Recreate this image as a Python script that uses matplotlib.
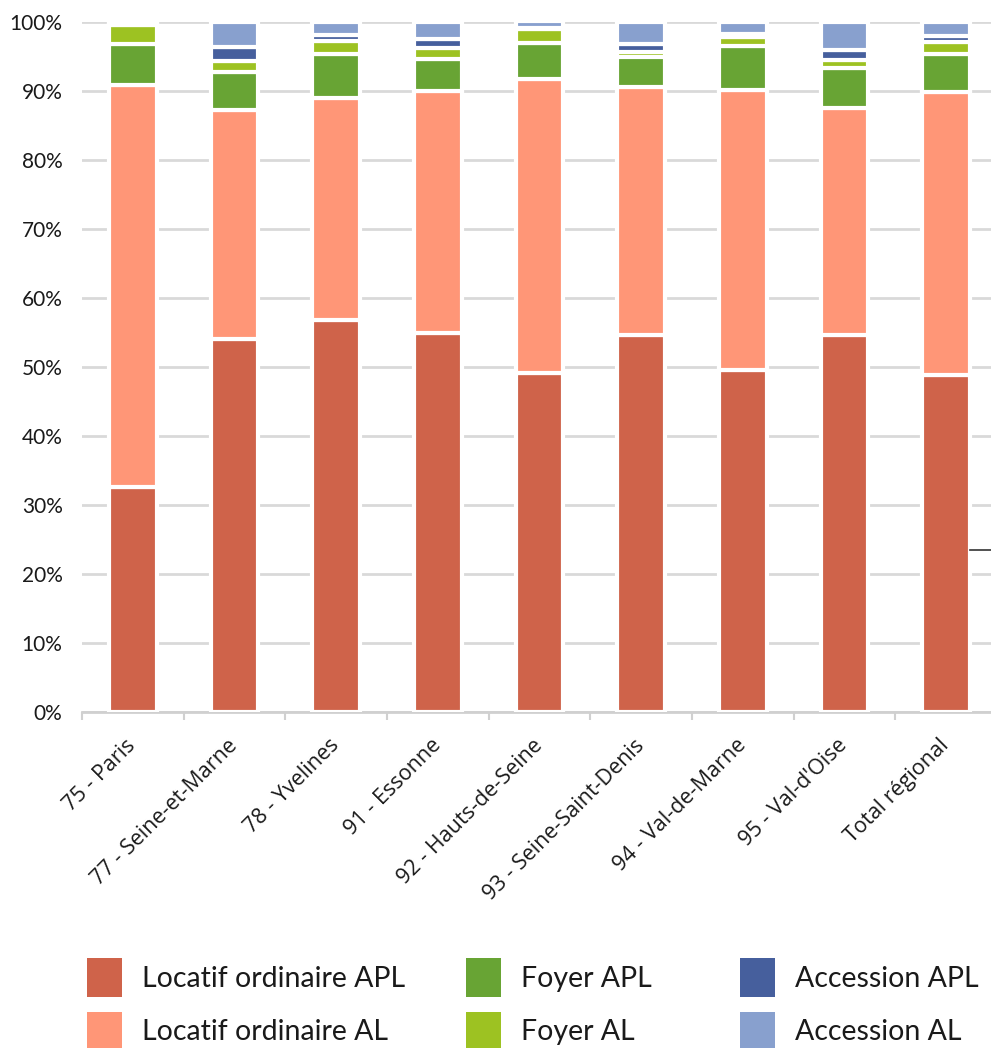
import matplotlib
matplotlib.use("Agg")
import matplotlib.pyplot as plt
import numpy as np
from matplotlib.patches import Patch
from matplotlib.lines import Line2D

plt.rcParams['font.family'] = ['Lato', 'DejaVu Sans']

categories = ["75 - Paris", "77 - Seine-et-Marne", "78 - Yvelines", "91 - Essonne",
              "92 - Hauts-de-Seine", "93 - Seine-Saint-Denis", "94 - Val-de-Marne",
              "95 - Val-d'Oise", "Total régional"]

locatif_apl = [32.6, 54.1, 56.8, 54.9, 49.2, 54.7, 49.6, 54.7, 48.8]
locatif_al = [58.2, 33.2, 32.2, 35.1, 42.5, 35.9, 40.6, 32.9, 41.1]
foyer_apl = [6.0, 5.4, 6.4, 4.7, 5.2, 4.4, 6.3, 5.7, 5.5]
foyer_al = [2.8, 1.6, 1.9, 1.6, 2.1, 0.6, 1.3, 1.2, 1.7]
accession_apl = [0.2, 2.1, 0.8, 1.25, 0.1, 1.2, 0.5, 1.5, 0.8]
accession_al = [0.2, 3.6, 1.9, 2.5, 1.0, 3.2, 1.7, 4.0, 2.1]

series_names = ["Locatif ordinaire APL", "Locatif ordinaire AL", "Foyer APL",
                "Foyer AL", "Accession APL", "Accession AL"]
series = [locatif_apl, locatif_al, foyer_apl, foyer_al, accession_apl, accession_al]
colors = ["#CF634A", "#FF9677", "#68A434", "#9DC222", "#465F9D", "#88A0CE"]

yticks = [0, 10, 20, 30, 40, 50, 60, 70, 80, 90, 100]
ytick_labels = [f"{v}%" for v in yticks]

W, H = 991, 1048
fig = plt.figure(figsize=(W / 100, H / 100), dpi=100)
ax = fig.add_axes([82 / W, 1 - 712 / H, (997 - 82) / W, (712 - 22) / H])

x = np.arange(len(categories))
bottom = np.zeros(len(categories))
handles = []
for name, vals, col in zip(series_names, series, colors):
    vals = np.array(vals)
    ax.bar(x, vals, width=0.47, bottom=bottom, color=col, edgecolor="white",
           linewidth=3.0, zorder=3)
    bottom += vals
    handles.append(Patch(facecolor=col, edgecolor="none", label=name))

ax.set_xlim(-0.5, len(categories) - 0.5)
ax.set_ylim(0, 100)
ax.set_yticks(yticks)
ax.set_yticklabels(ytick_labels, fontsize=15, color="#1a1a1a")
ax.tick_params(axis="y", length=0, pad=14)
ax.yaxis.grid(True, color="#D9D9D9", linewidth=2.0, zorder=0)
ax.set_axisbelow(True)

ax.set_xticks(x)
ax.set_xticklabels(categories, rotation=45, ha="right", va="center",
                   rotation_mode="anchor", fontsize=15.5, color="#1a1a1a",
                   family=["Open Sans", "DejaVu Sans"])
ax.tick_params(axis="x", which="major", length=0, pad=22)
ax.set_xticks(np.arange(-0.5, len(categories), 1.0), minor=True)
ax.tick_params(axis="x", which="minor", length=6, width=1.5, color="#D0D0D0")

for s in ["top", "right", "left"]:
    ax.spines[s].set_visible(False)
ax.spines["bottom"].set_color("#D0D0D0")
ax.spines["bottom"].set_linewidth(2.0)

# legend in three columns
col_x = [87, 466, 740]
for ci in range(3):
    leg = fig.legend(handles=handles[2 * ci:2 * ci + 2], loc="upper left",
                     bbox_to_anchor=(col_x[ci] / W, 1 - 958 / H),
                     frameon=False, fontsize=20.5, handlelength=1.23,
                     handleheight=1.75, handletextpad=0.7, labelspacing=0.5,
                     borderaxespad=0, borderpad=0)
    for t in leg.get_texts():
        t.set_color("#1a1a1a")

# small stray mark on the right
fig.add_artist(Line2D([970 / W, 991 / W], [1 - 550 / H, 1 - 550 / H],
                      color="#333333", linewidth=1.2, transform=fig.transFigure))

fig.savefig("out.png", dpi=100)
